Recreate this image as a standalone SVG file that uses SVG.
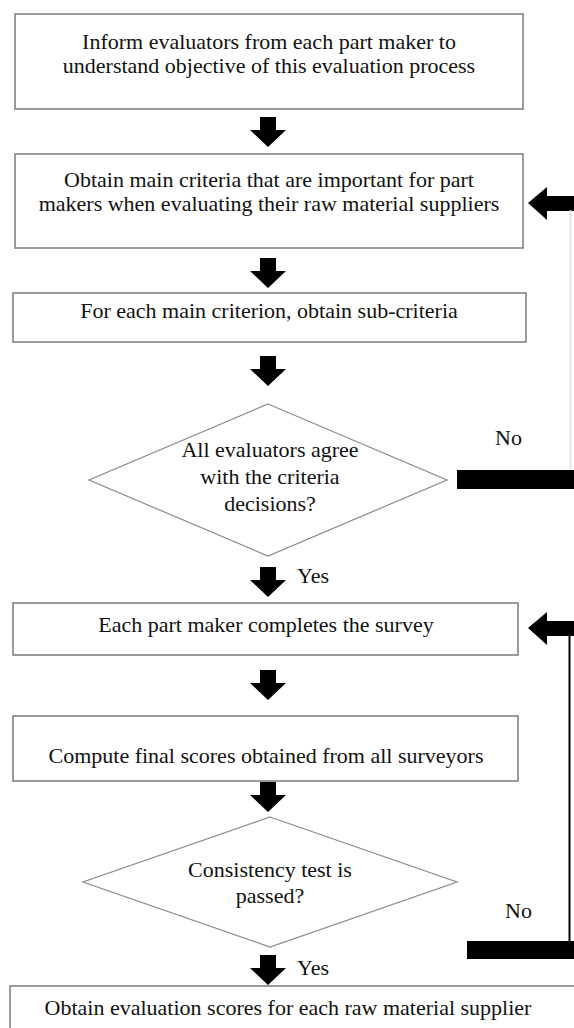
<svg xmlns="http://www.w3.org/2000/svg" width="574" height="1028" viewBox="0 0 574 1028">
<style>
.box{fill:#fff;stroke:#7a7a7a;stroke-width:1.5}
.dia{fill:#fff;stroke:#8a8a8a;stroke-width:1.2}
.t{font-family:"Liberation Serif","Times New Roman",serif;font-size:22px;fill:#111;text-anchor:middle}
.lbl{font-family:"Liberation Serif","Times New Roman",serif;font-size:22px;fill:#111}
.bar{fill:#000}
</style>
<defs>
<path id="down" d="M-8,-30 h16 v13 h10 L0,0 L-18,-17 h10 z" fill="#000"/>
<path id="left" d="M0,0 L19,-16 v9 h27 v15 h-27 v9 z" fill="#000"/>
</defs>
<rect width="574" height="1028" fill="#fff"/>
<g id="n1">
<rect class="box" x="15" y="14" width="508" height="95"/>
<text class="t" x="269" y="49">Inform evaluators from each part maker to</text>
<text class="t" x="269" y="73">understand objective of this evaluation process</text>
</g>
<g id="n2">
<rect class="box" x="15" y="154" width="508" height="94"/>
<text class="t" x="269" y="187">Obtain main criteria that are important for part</text>
<text class="t" x="269" y="211">makers when evaluating their raw material suppliers</text>
</g>
<g id="n3">
<rect class="box" x="13" y="293" width="513" height="49"/>
<text class="t" x="269" y="318">For each main criterion, obtain sub-criteria</text>
</g>
<g id="d1">
<polygon class="dia" points="268,404 447,480 268,556 89,480"/>
<text class="t" x="270" y="457">All evaluators agree</text>
<text class="t" x="270" y="484">with the criteria</text>
<text class="t" x="270" y="511">decisions?</text>
</g>
<g id="n4">
<rect class="box" x="13" y="603" width="505" height="52"/>
<text class="t" x="266" y="632">Each part maker completes the survey</text>
</g>
<g id="n5">
<rect class="box" x="13" y="716" width="505" height="65"/>
<text class="t" x="266" y="763">Compute final scores obtained from all surveyors</text>
</g>
<g id="d2">
<polygon class="dia" points="270,817 457,882 270,947 83,882"/>
<text class="t" x="270" y="877">Consistency test is</text>
<text class="t" x="270" y="903">passed?</text>
</g>
<g id="n6">
<rect class="box" x="10" y="986" width="580" height="60"/>
<text class="t" x="288" y="1015">Obtain evaluation scores for each raw material supplier</text>
</g>
<g id="connectors">
<use href="#down" x="268" y="147"/>
<use href="#down" x="268" y="288"/>
<use href="#down" x="268" y="386"/>
<use href="#down" x="268" y="597"/>
<use href="#down" x="268" y="700"/>
<use href="#down" x="268" y="812"/>
<use href="#down" x="268" y="985"/>
<use href="#left" x="528" y="203"/>
<use href="#left" x="528" y="628"/>
<rect class="bar" x="457" y="470" width="117" height="19"/>
<rect class="bar" x="467" y="941" width="107" height="18"/>
<line x1="570.5" y1="210" x2="570.5" y2="470" stroke="#dcdcdc" stroke-width="1.5"/>
<line x1="569.5" y1="635" x2="569.5" y2="941" stroke="#000" stroke-width="2"/>
<text class="lbl" x="495" y="445">No</text>
<text class="lbl" x="505" y="918">No</text>
<text class="lbl" x="297" y="583">Yes</text>
<text class="lbl" x="297" y="975">Yes</text>
</g>
</svg>
